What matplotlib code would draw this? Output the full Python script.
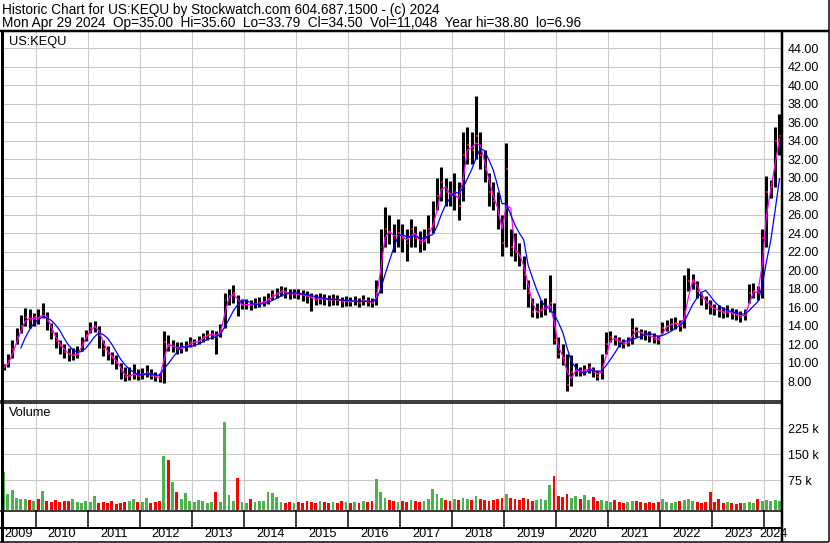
import numpy as np
import pandas as pd
import matplotlib
matplotlib.use('Agg')
import matplotlib.pyplot as plt
from matplotlib.lines import Line2D

plt.rcParams['font.family'] = ['Liberation Sans', 'DejaVu Sans']

W, H = 830, 543

# monthly bars, May 2009 .. Apr 2024
first_month = '2009-05'
last_month = '2024-04'

highs = [
    9.9, 11.0, 12.5, 13.8, 15.2, 15.9, 15.8, 15.4,                      # 2009
    15.8, 16.5, 15.5, 14.3, 13.3, 12.5, 12.0, 11.6, 11.6, 11.8, 12.8, 13.6,  # 2010
    14.4, 14.5, 14.0, 12.5, 11.8, 11.2, 10.8, 10.0, 9.5, 9.6, 9.9, 9.3,     # 2011
    9.4, 9.8, 9.3, 9.0, 8.9, 13.4, 13.0, 12.5, 12.2, 12.2, 12.4, 12.8,      # 2012
    12.6, 12.9, 13.2, 13.5, 13.6, 13.4, 14.2, 17.6, 18.0, 18.4, 17.3, 16.8,  # 2013
    16.9, 16.8, 17.0, 17.1, 17.2, 17.5, 17.9, 18.1, 18.3, 18.2, 18.0, 18.0,  # 2014
    18.0, 17.9, 17.8, 17.6, 17.4, 17.5, 17.4, 17.3, 17.4, 17.3, 17.1, 17.2,  # 2015
    17.1, 17.2, 17.0, 17.3, 17.1, 17.0, 19.0, 24.5, 26.8, 26.0, 25.0, 25.5,  # 2016
    25.0, 24.5, 25.5, 24.8, 24.2, 24.5, 26.0, 27.5, 30.0, 31.2, 30.0, 29.6,  # 2017
    30.5, 29.5, 35.0, 35.5, 35.0, 38.8, 35.0, 33.0, 30.5, 29.5, 28.5, 26.0,  # 2018
    33.8, 24.5, 24.0, 23.0, 21.5, 19.0, 17.0, 16.5, 16.8, 17.0, 19.5, 16.5,  # 2019
    12.8, 12.0, 11.0, 10.8, 10.0, 9.6, 9.8, 10.0, 9.6, 9.2, 11.0, 13.3,     # 2020
    13.4, 13.0, 12.8, 12.6, 12.8, 14.8, 13.9, 13.7, 13.6, 13.4, 13.2, 13.0,  # 2021
    14.4, 14.6, 14.8, 14.9, 14.6, 19.5, 20.3, 19.6, 18.8, 17.6, 17.2, 16.8,  # 2022
    16.4, 16.2, 16.0, 16.2, 15.9, 15.8, 15.6, 15.8, 18.5, 18.6, 18.3, 24.5,  # 2023
    30.2, 29.8, 35.5, 36.9,                                             # 2024
]
lows = [
    9.2, 9.6, 10.5, 12.0, 13.2, 14.0, 13.8, 14.0,
    14.2, 14.8, 13.6, 12.6, 11.6, 11.0, 10.5, 10.2, 10.3, 10.5, 11.3, 12.4,
    13.2, 13.3, 11.6, 10.7, 10.3, 9.9, 9.3, 8.2, 8.0, 8.1, 8.3, 8.1,
    8.3, 8.5, 8.2, 8.0, 7.9, 7.8, 11.3, 11.2, 11.0, 11.1, 11.3, 11.7,
    11.8, 12.0, 12.3, 12.5, 12.6, 11.0, 12.8, 13.8, 16.3, 16.5, 15.1, 15.8,
    15.8, 15.7, 15.9, 16.0, 16.1, 16.4, 16.8, 17.0, 17.2, 17.0, 16.9, 17.0,
    16.9, 16.7, 16.5, 15.6, 16.2, 16.4, 16.3, 16.1, 16.3, 16.2, 16.0, 16.1,
    16.1, 16.2, 16.0, 16.2, 16.1, 16.0, 16.3, 17.5, 22.5, 22.8, 22.0, 22.5,
    22.0, 21.0, 22.5, 22.5, 22.0, 22.2, 23.0, 24.0, 26.5, 27.5, 27.0, 26.9,
    26.5, 25.4, 27.5, 31.5, 31.5, 32.0, 31.0, 29.5, 27.0, 26.5, 24.5, 21.5,
    22.5, 21.5, 21.0, 20.5, 18.0, 16.0, 15.0, 14.8, 15.0, 15.2, 15.5, 12.0,
    10.5, 9.8, 6.96, 7.5, 8.6, 8.6, 8.7, 8.9, 8.5, 8.1, 8.3, 11.0,
    12.2, 11.9, 11.7, 11.6, 11.8, 12.0, 12.8, 12.6, 12.5, 12.3, 12.1, 12.0,
    13.2, 13.4, 13.6, 13.7, 13.4, 13.8, 17.8, 18.0, 17.0, 16.2, 15.8, 15.3,
    15.2, 15.0, 14.8, 15.0, 14.7, 14.6, 14.4, 14.6, 16.5, 17.0, 16.8, 17.0,
    22.5, 27.8, 29.0, 32.5,
]
closes = [
    9.5, 10.2, 11.5, 12.8, 14.0, 15.0, 14.6, 14.9,
    14.8, 15.5, 14.5, 13.3, 12.4, 11.8, 11.2, 10.8, 10.8, 11.0, 12.3, 13.0,
    13.8, 14.0, 13.0, 11.5, 11.0, 10.5, 10.0, 9.0, 8.5, 8.6, 8.9, 8.6,
    8.8, 9.0, 8.6, 8.5, 8.3, 12.3, 11.8, 11.8, 11.5, 11.6, 11.8, 12.2,
    12.2, 12.4, 12.8, 13.0, 13.1, 12.8, 13.6, 16.8, 17.2, 17.6, 16.2, 16.3,
    16.3, 16.2, 16.4, 16.5, 16.6, 16.9, 17.3, 17.5, 17.8, 17.6, 17.4, 17.5,
    17.4, 17.3, 17.2, 17.0, 16.8, 17.0, 16.9, 16.7, 16.9, 16.8, 16.6, 16.7,
    16.6, 16.7, 16.5, 16.8, 16.6, 16.5, 17.5, 22.5, 24.5, 24.0, 23.5, 24.0,
    23.5, 23.0, 24.5, 23.5, 23.0, 23.2, 24.5, 25.0, 28.0, 29.5, 28.5, 28.0,
    28.5, 27.0, 32.5, 33.5, 33.0, 34.5, 32.5, 31.0, 28.5, 27.5, 26.0, 23.0,
    31.0, 22.5, 22.0, 21.5, 19.5, 17.5, 15.5, 15.5, 15.8, 16.0, 16.5, 12.5,
    11.0, 10.5, 7.6, 9.0, 9.3, 9.0, 9.2, 9.5, 9.0, 8.5, 9.5, 12.0,
    12.8, 12.5, 12.3, 12.0, 12.2, 13.5, 13.4, 13.2, 13.0, 12.9, 12.6, 12.5,
    13.8, 14.0, 14.2, 14.3, 14.0, 15.5, 18.8, 19.0, 17.8, 17.0, 16.5, 16.0,
    15.8, 15.6, 15.4, 15.6, 15.3, 15.2, 15.0, 15.2, 17.5, 17.8, 17.5, 23.5,
    28.5, 29.0, 34.0, 34.5,
]
# volume in thousands of shares
volumes = [
    100, 35, 47, 25, 20, 22, 18, 15,
    20, 45, 15, 12, 18, 12, 14, 16, 21, 12, 10, 14,
    12, 30, 10, 12, 10, 16, 8, 10, 12, 14, 21, 12,
    12, 24, 10, 12, 14, 145, 133, 71, 40, 20, 39, 15,
    12, 17, 14, 10, 12, 42, 12, 244, 33, 15, 83, 12,
    10, 21, 12, 14, 14, 41, 37, 26, 12, 10, 12, 10,
    12, 10, 15, 12, 10, 14, 12, 10, 12, 10, 14, 12,
    10, 12, 10, 14, 12, 15, 80, 40, 25, 18, 15, 12,
    15, 12, 18, 14, 12, 15, 20, 50, 35, 25, 18, 15,
    20, 18, 25, 20, 18, 30, 20, 18, 15, 18, 20, 25,
    35, 25, 20, 18, 25, 20, 15, 18, 20, 18, 61, 87,
    30, 26, 35, 25, 29, 20, 32, 18, 27, 15, 18, 15,
    12, 17, 12, 10, 12, 16, 16, 12, 10, 12, 10, 12,
    21, 12, 10, 12, 15, 18, 21, 15, 12, 10, 12, 41,
    12, 21, 10, 12, 10, 8, 10, 10, 12, 10, 21, 14,
    18, 14, 18, 14,
]

price_ticks = list(range(8, 45, 2))
volume_ticks = [75, 150, 225]
years = list(range(2009, 2025))

title1 = 'Historic Chart for US:KEQU by Stockwatch.com 604.687.1500 - (c) 2024'
title2 = ('Mon Apr 29 2024  Op=35.00  Hi=35.60  Lo=33.79  Cl=34.50  '
          'Vol=11,048  Year hi=38.80  lo=6.96')

months = pd.period_range(first_month, last_month, freq='M')
t = np.array([p.year + (p.month - 0.5) / 12 for p in months])
df = pd.DataFrame({'t': t, 'high': highs, 'low': lows, 'close': closes, 'vol': volumes})
df['ma_short'] = df['close'].rolling(2, min_periods=1).mean()
df['ma_long'] = df['close'].rolling(5).mean()
df['up'] = df['close'].diff().fillna(1) >= 0

XMIN, XMAX = 2009.346, 2024.34
GRID = '#c8c8c8'

fig = plt.figure(figsize=(W / 100, H / 100), dpi=100)


def add_ax(x0, y0, x1, y1):
    ax = fig.add_axes([x0 / W, 1 - y1 / H, (x1 - x0) / W, (y1 - y0) / H])
    for s in ax.spines.values():
        s.set_visible(False)
    ax.set_xlim(XMIN, XMAX)
    return ax


def line(x0, y0, x1, y1, lw=1.0):
    fig.add_artist(Line2D([x0 / W, x1 / W], [1 - y0 / H, 1 - y1 / H],
                          transform=fig.transFigure, color='black', lw=lw * 0.72,
                          solid_capstyle='butt'))


# price panel
ax = add_ax(2, 32, 782, 400)
ax.set_ylim(5.98, 45.76)
for yv in price_ticks:
    ax.axhline(yv, color=GRID, lw=0.75, zorder=0)
for yr in years[1:]:
    ax.axvline(yr, color=GRID, lw=0.75, zorder=0)
ax.vlines(df['t'], df['low'], df['high'], color='black', lw=2.2, zorder=2)
ax.hlines(df['close'], df['t'], df['t'] + 0.035, color='#ff0000', lw=1.4, zorder=3)
ax.plot(df['t'], df['ma_short'], color='#ff00ff', lw=0.9, zorder=4)
ax.plot(df['t'], df['ma_long'], color='#0000ff', lw=0.9, zorder=5)
ax.yaxis.tick_right()
ax.set_yticks(price_ticks)
ax.set_yticklabels([f'{v:.2f}' for v in price_ticks])
ax.tick_params(axis='y', length=0, pad=4, labelsize=9)
ax.set_xticks([])
ax.text(7 / 780, 1 - 10 / 368, 'US:KEQU', transform=ax.transAxes, fontsize=9.2,
        va='center', ha='left')

# volume panel
vax = add_ax(2, 403, 782, 510)
vbot = -10.7
vax.set_ylim(vbot, 298)
for yv in volume_ticks:
    vax.axhline(yv, color=GRID, lw=0.75, zorder=0)
for yr in years[1:]:
    vax.axvline(yr, color=GRID, lw=0.75, zorder=0)
colors = np.where(df['up'], '#4cb34c', '#ff0000')
vax.bar(df['t'], df['vol'] - vbot, bottom=vbot, width=0.055, color=colors, zorder=2)
vax.yaxis.tick_right()
vax.set_yticks(volume_ticks)
vax.set_yticklabels([f'{v} k' for v in volume_ticks])
vax.tick_params(axis='y', length=0, pad=4, labelsize=9)
vax.set_xticks([])
vax.text(7 / 780, 1 - 10 / 107, 'Volume', transform=vax.transAxes, fontsize=9.2,
         va='center', ha='left')

# year labels
yax = add_ax(2, 510, 782, 541)
yax.set_ylim(0, 1)
yax.set_xticks([])
yax.set_yticks([])
for yr in years:
    a, b = max(yr, XMIN), min(yr + 1, XMAX)
    yax.text((a + b) / 2, 0.21, str(yr), fontsize=9.2, ha='center', va='center')

# frame lines
x_yr = [2 + (yr - XMIN) / (XMAX - XMIN) * 780 for yr in years[1:]]
for xp in x_yr:
    line(xp, 510, xp, 528, 1.5)
line(0, 31, 829, 31, 2.5)
line(1.5, 31, 1.5, 542, 3)
line(828.5, 0, 828.5, 542, 1.5)
line(0, 541.5, 829, 541.5, 1.5)
line(782, 31, 782, 542, 2.5)
line(0, 400.5, 782, 400.5, 1.5)
line(0, 403, 782, 403, 1.5)
line(0, 510.5, 782, 510.5, 1.5)
line(0, 527.5, 782, 527.5, 2)

fig.text(2 / W, 1 - 14 / H, title1, fontsize=9.8, ha='left', va='baseline')
fig.text(2 / W, 1 - 27.5 / H, title2, fontsize=9.8, ha='left', va='baseline')

fig.savefig('out.png', dpi=100)
